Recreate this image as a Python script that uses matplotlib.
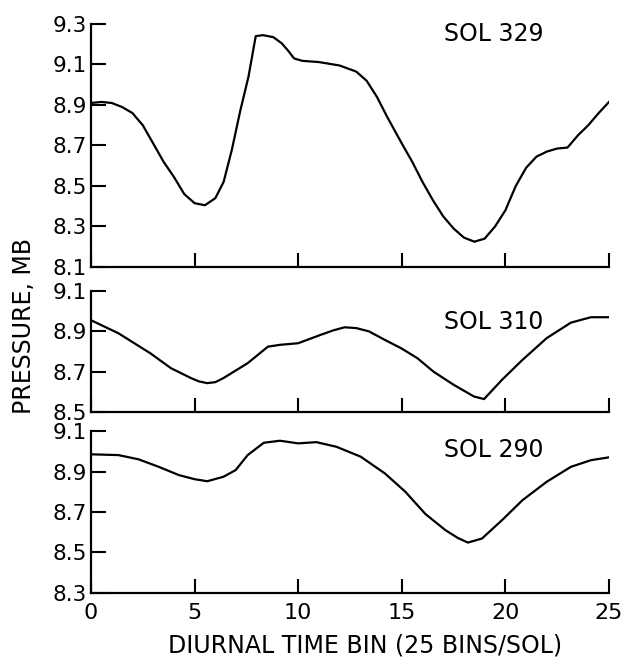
import matplotlib
matplotlib.use("Agg")
import matplotlib.pyplot as plt

plt.rcParams['font.family'] = ['DejaVu Sans']

# SOL 329 (top panel)
x329 = [0, 0.5, 1.0, 1.5, 2.0, 2.5, 3.0, 3.5, 4.0, 4.5, 5.0, 5.5, 6.0, 6.4, 6.8,
        7.2, 7.6, 7.95, 8.3, 8.8, 9.2, 9.5, 9.8, 10.2, 11.0, 12.0, 12.8, 13.3,
        13.8, 14.3, 15.0, 15.5, 16.0, 16.5, 17.0, 17.5, 18.0, 18.5, 19.0, 19.5,
        20.0, 20.5, 21.0, 21.5, 22.0, 22.5, 23.0, 23.5, 24.0, 24.5, 25.0]
p329 = [8.91, 8.915, 8.91, 8.89, 8.86, 8.80, 8.71, 8.62, 8.545, 8.46, 8.415,
        8.405, 8.44, 8.52, 8.68, 8.87, 9.04, 9.24, 9.245, 9.235, 9.205, 9.17,
        9.13, 9.118, 9.112, 9.095, 9.065, 9.02, 8.94, 8.84, 8.71, 8.62, 8.52,
        8.43, 8.35, 8.29, 8.245, 8.225, 8.24, 8.30, 8.38, 8.50, 8.59, 8.645,
        8.67, 8.685, 8.69, 8.75, 8.80, 8.86, 8.915]

# SOL 310 (middle panel)
x310 = [0, 1.33, 2.88, 3.86, 4.83, 5.2, 5.61, 6.0, 6.39, 7.56, 8.54, 9.12, 10.0,
        11.07, 11.7, 12.24, 12.8, 13.41, 14.19, 14.97, 15.75, 16.53, 17.5, 18.48,
        18.97, 19.84, 20.82, 21.99, 23.16, 24.13, 25.0]
p310 = [8.955, 8.89, 8.79, 8.717, 8.668, 8.652, 8.643, 8.648, 8.668, 8.742,
        8.824, 8.833, 8.841, 8.882, 8.905, 8.92, 8.916, 8.90, 8.857, 8.816,
        8.767, 8.70, 8.635, 8.577, 8.564, 8.66, 8.758, 8.866, 8.943, 8.97, 8.97]

# SOL 290 (bottom panel)
x290 = [0, 1.33, 2.3, 3.27, 4.25, 5.0, 5.61, 6.39, 6.98, 7.56, 8.34, 9.12, 10.0,
        10.88, 11.85, 13.02, 14.19, 15.17, 16.14, 17.11, 17.7, 18.19, 18.87,
        19.84, 20.82, 21.99, 23.16, 24.13, 25.0]
p290 = [8.985, 8.981, 8.96, 8.923, 8.882, 8.862, 8.852, 8.874, 8.907, 8.981,
        9.042, 9.052, 9.039, 9.045, 9.022, 8.973, 8.89, 8.80, 8.69, 8.61,
        8.572, 8.549, 8.569, 8.66, 8.758, 8.849, 8.923, 8.956, 8.97]

panels = [
    (x329, p329, "SOL 329", 8.1, 9.3, [8.1, 8.3, 8.5, 8.7, 8.9, 9.1, 9.3], 9.253,
     [0.1447, 0.5973, 0.8235, 0.3665]),
    (x310, p310, "SOL 310", 8.5, 9.1, [8.5, 8.7, 8.9, 9.1], 8.945,
     [0.1447, 0.3786, 0.8235, 0.1825]),
    (x290, p290, "SOL 290", 8.3, 9.1, [8.3, 8.5, 8.7, 8.9, 9.1], 9.005,
     [0.1447, 0.1056, 0.8235, 0.2443]),
]

fig = plt.figure(figsize=(6.29, 6.63), dpi=100)

for i, (xs, ys, name, ylo, yhi, yt, ty, rect) in enumerate(panels):
    ax = fig.add_axes(rect)
    ax.patch.set_alpha(0)
    ax.plot(xs, ys, color='black', lw=1.6)
    ax.set_xlim(0, 25)
    ax.set_ylim(ylo, yhi)
    ax.set_yticks(yt)
    ax.set_yticklabels([f"{v:.1f}" for v in yt])
    ax.set_xticks([0, 5, 10, 15, 20, 25])
    for s in ['top', 'right']:
        ax.spines[s].set_visible(False)
    for s in ['left', 'bottom']:
        ax.spines[s].set_linewidth(1.6)
    ax.tick_params(axis='y', direction='in', length=11, width=1.5,
                   labelsize=15.5, pad=3)
    ax.tick_params(axis='x', direction='in', length=10, width=1.5,
                   labelsize=16, pad=7)
    if i < 2:
        ax.tick_params(axis='x', labelbottom=False)
    ax.text(17.05, ty, name, fontsize=17, va='center', ha='left')

fig.text(0.038, 0.508, "PRESSURE, MB", rotation=90, fontsize=17,
         ha='center', va='center')
fig.text(0.581, 0.026, "DIURNAL TIME BIN (25 BINS/SOL)", fontsize=17,
         ha='center', va='center')

fig.savefig("out.png", dpi=100)
